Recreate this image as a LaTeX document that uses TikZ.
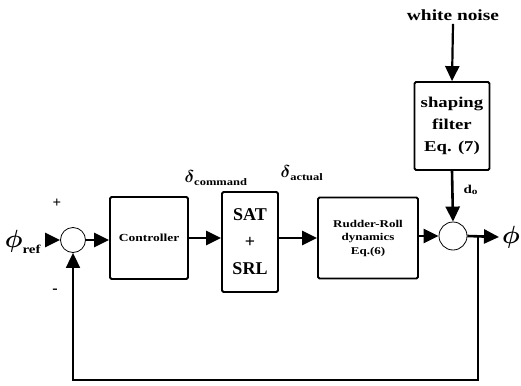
\documentclass[tikz,border=0pt]{standalone}
\usepackage{amsmath,amssymb}
\usepackage{fontspec}
\setmainfont{Liberation Serif}
\newfontfamily\widefont[FakeStretch=1.25]{Liberation Serif}
\usetikzlibrary{positioning,arrows.meta}

\begin{document}
\begin{tikzpicture}[x=1pt,y=-1pt,>={Triangle[length=15pt,width=14pt]},font=\bfseries,
  blk/.style={draw,line width=1.8pt,rounded corners=1.5pt,align=center,inner sep=0pt},
  sumpt/.style={draw,circle,line width=0.8pt,inner sep=0pt},
  sig/.style={->,line width=2.6pt}]
\useasboundingbox (0,0) rectangle (521,385);
% blocks of the loop
\node[sumpt,minimum size=25pt] (s1) at (73,240) {};
\node[blk,minimum width=78pt,minimum height=82pt,font=\widefont\bfseries\fontsize{10.8}{12}\selectfont] (ctrl) at (149,238) {Controller};
\node[blk,minimum width=56pt,minimum height=100pt,font=\bfseries\fontsize{18}{27}\selectfont] (sat) at (250,242) {SAT\\+\\SRL};
\node[blk,minimum width=100pt,minimum height=81pt,font=\widefont\bfseries\fontsize{10.4}{13.5}\selectfont] (rud) at (368,238) {Rudder-Roll\\dynamics\\Eq.(6)};
\node[sumpt,minimum size=28pt] (s2) at (453,236) {};
\node[blk,minimum width=75pt,minimum height=88pt,font=\widefont\bfseries\fontsize{15}{22}\selectfont] (filt) at (452,126) {shaping\\filter\\Eq. (7)};
\node[font=\widefont\bfseries\fontsize{15.5}{17}\selectfont] (noise) at (453,15) {white noise};
% signals
\node (ref) at (23,242) {\fontsize{28}{30}\selectfont$\boldsymbol{\phi}_{\textbf{\widefont\fontsize{12}{12}\selectfont ref}}$};
\node (out) at (511,237) {\fontsize{28}{30}\selectfont$\boldsymbol{\phi}$};
\coordinate (outend) at (499,237);
\coordinate (br) at (478,237);
\node (dcmd) at (216,178) {\fontsize{18}{20}\selectfont$\boldsymbol{\delta}_{\textbf{\widefont\fontsize{10}{10}\selectfont command}}$};
\node (dact) at (302,173) {\fontsize{18}{20}\selectfont$\boldsymbol{\delta}_{\textbf{\widefont\fontsize{10}{10}\selectfont actual}}$};
\node[font=\bfseries\fontsize{15}{15}\selectfont] (plus) at (57,203) {+};
\node[font=\bfseries\fontsize{16}{16}\selectfont] (minus) at (55,291) {-};
\node[font=\widefont\bfseries\fontsize{12}{12}\selectfont,anchor=west] (d0) at (460,190) {d\raisebox{-1pt}{\fontsize{9}{9}\selectfont o}};
% connectors
\draw[sig] (ref.east |- s1) -- (s1.west);
\draw[sig] (s1.east) -- (ctrl.west |- s1);
\draw[sig] (ctrl.east) -- (sat.west |- ctrl);
\draw[sig] (sat.east |- rud) -- (rud.west);
\draw[sig] (rud.east |- s2) -- (s2.west);
\draw[sig] (s2.east) -- (outend);
\draw[->,line width=2.2pt] (noise.south) -- (filt.north);
\draw[sig] (filt.south) -- (s2.north);
\draw[->,line width=1.8pt] (br) -- (478,380) -| (s1.south);
\end{tikzpicture}
\end{document}
